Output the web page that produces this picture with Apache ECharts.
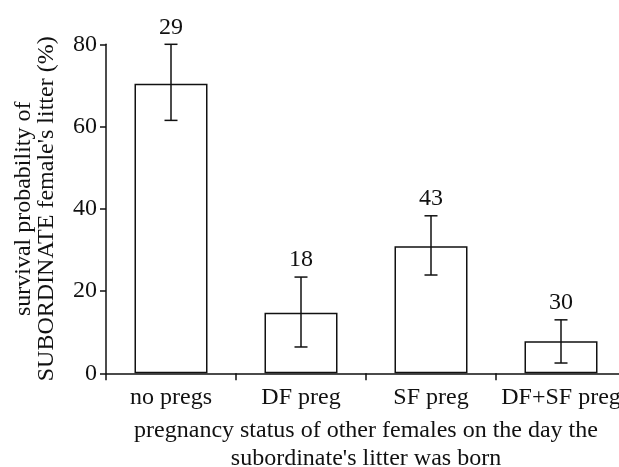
<!DOCTYPE html>
<html>
<head>
<meta charset="utf-8">
<script src="https://cdn.jsdelivr.net/npm/echarts@6/dist/echarts.min.js"></script>
<style>html,body{margin:0;padding:0;background:#fff;}#c{width:619px;height:467px;}</style>
</head>
<body>
<div id="c"></div>
<script>
const categories = ['no pregs', 'DF preg', 'SF preg', 'DF+SF preg'];
const survival = [70.4, 14.7, 30.9, 7.8];
const errLow = [61.5, 6.4, 23.9, 2.5];
const errHigh = [80.0, 23.4, 38.3, 13.0];
const sampleSizes = [29, 18, 43, 30];
const yTicks = [0, 20, 40, 60, 80];

const FONT = '"Liberation Serif", "Times New Roman", serif';
const FS = 24;
const INK = '#111';

const chart = echarts.init(document.getElementById('c'), null, {renderer: 'canvas'});
chart.setOption({
  animation: false,
  backgroundColor: '#fff',
  grid: {left: 106, top: 44.3, width: 520, height: 329, containLabel: false, outerBoundsMode: 'none'},
  xAxis: {
    type: 'category',
    data: categories,
    boundaryGap: true,
    axisLine: {lineStyle: {color: INK, width: 1.5}},
    axisTick: {show: true, length: 7, lineStyle: {color: INK, width: 1.5}},
    axisLabel: {color: INK, fontFamily: FONT, fontSize: FS, margin: 12, interval: 0, hideOverlap: false},
    name: 'pregnancy status of other females on the day the\nsubordinate\'s litter was born',
    nameLocation: 'middle',
    nameGap: 43,
    nameTextStyle: {color: INK, fontFamily: FONT, fontSize: FS, lineHeight: 28}
  },
  yAxis: {
    type: 'value',
    min: yTicks[0],
    max: yTicks[yTicks.length - 1],
    interval: 20,
    splitLine: {show: false},
    axisLine: {show: true, lineStyle: {color: INK, width: 1.5}},
    axisTick: {show: true, length: 6, lineStyle: {color: INK, width: 1.5}},
    axisLabel: {color: INK, fontFamily: FONT, fontSize: FS, margin: 9},
    name: 'survival probability of\nSUBORDINATE female\'s litter (%)',
    nameLocation: 'middle',
    nameGap: 48,
    nameTextStyle: {color: INK, fontFamily: FONT, fontSize: FS, lineHeight: 23}
  },
  series: [
    {
      type: 'bar',
      data: survival,
      barWidth: 73,
      itemStyle: {color: '#fff', borderColor: INK, borderWidth: 1.5},
      silent: true
    },
    {
      type: 'custom',
      data: categories.map((c, i) => [i, errLow[i], errHigh[i], sampleSizes[i]]),
      encode: {x: 0, y: [1, 2]},
      z: 5,
      renderItem: function (params, api) {
        const i = api.value(0);
        const lo = api.coord([i, api.value(1)]);
        const hi = api.coord([i, api.value(2)]);
        const cap = 6.5;
        const style = {stroke: INK, lineWidth: 1.5, fill: null};
        return {
          type: 'group',
          children: [
            {type: 'line', shape: {x1: lo[0], y1: lo[1], x2: hi[0], y2: hi[1]}, style: style},
            {type: 'line', shape: {x1: hi[0] - cap, y1: hi[1], x2: hi[0] + cap, y2: hi[1]}, style: style},
            {type: 'line', shape: {x1: lo[0] - cap, y1: lo[1], x2: lo[0] + cap, y2: lo[1]}, style: style},
            {type: 'text', x: hi[0], y: hi[1] - 5,
              style: {text: String(api.value(3)), fill: INK, font: FS + 'px ' + FONT, textAlign: 'center', textVerticalAlign: 'bottom'}}
          ]
        };
      }
    }
  ]
});
</script>
</body>
</html>
